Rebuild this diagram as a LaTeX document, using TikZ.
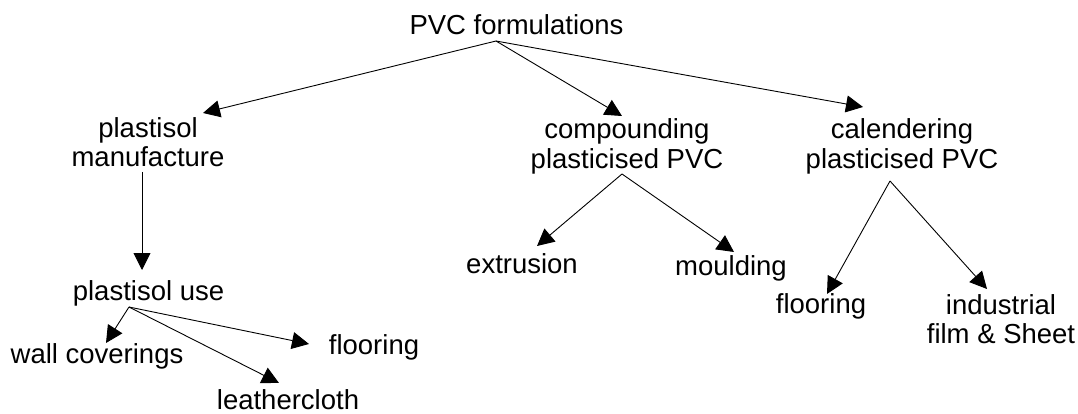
\documentclass[tikz,border=0pt]{standalone}
\usepackage{fontspec}
\setmainfont{Liberation Sans}
\usepackage{tikz}
\usetikzlibrary{calc}
\usetikzlibrary{arrows.meta}

\begin{document}
\begin{tikzpicture}[x=1pt,y=-1pt,
	lbl/.style={anchor=base,inner sep=0pt,align=center,font=\fontsize{27.5pt}{29pt}\selectfont},
	arr/.style={-{Triangle[length=17pt,width=17pt]},line width=0.9pt}]
	\useasboundingbox (0,0) rectangle (1078,414);
	
	%top
	\node[lbl] (pvc) at (516.5,35) {PVC formulations};
	
	%left branch (base = last line)
	\node[lbl] (pm) at (148,167) {plastisol\\manufacture};
	\node[lbl] (pu) at (148.5,300) {plastisol use};
	\node[lbl] (wc) at (97,363) {wall coverings};
	\node[lbl] (fl1) at (374,354) {flooring};
	\node[lbl] (lc) at (288,409) {leathercloth};
	
	%middle branch
	\node[lbl] (cp) at (627,168) {compounding\\plasticised PVC};
	\node[lbl] (ex) at (522,273) {extrusion};
	\node[lbl] (mo) at (731,275) {moulding};
	
	%right branch
	\node[lbl] (cal) at (902,168) {calendering\\plasticised PVC};
	\node[lbl] (fl2) at (821,313) {flooring};
	\node[lbl] (ind) at (1001,343) {industrial\\film \& Sheet};
	
	%arrows from top
	\draw[arr] ($(pvc.base)+(-20.5,6)$) -- ($(pm.base)+(55,-54)$);
	\draw[arr] ($(pvc.base)+(-20.5,6)$) -- ($(cp.base)+(-5,-52)$);
	\draw[arr] ($(pvc.base)+(-20.5,6)$) -- ($(cal.base)+(-39,-61)$);
	
	%left arrows
	\draw[arr] ($(pm.base)+(-6,5)$) -- ($(pu.base)+(-6.5,-30)$);
	\draw[arr] ($(pu.base)+(-19.5,7)$) -- ($(wc.base)+(9,-20)$);
	\draw[arr] ($(pu.base)+(-19.5,7)$) -- ($(fl1.base)+(-65,-10)$);
	\draw[arr] ($(pu.base)+(-19.5,7)$) -- ($(lc.base)+(-9,-26)$);
	
	%middle arrows
	\draw[arr] ($(cp.base)+(-5,6)$) -- ($(ex.base)+(15,-27)$);
	\draw[arr] ($(cp.base)+(-5,6)$) -- ($(mo.base)+(3,-23)$);
	
	%right arrows
	\draw[arr] ($(cal.base)+(-12,13)$) -- ($(fl2.base)+(6,-19)$);
	\draw[arr] ($(cal.base)+(-12,13)$) -- ($(ind.base)+(-14,-54)$);
\end{tikzpicture}
\end{document}
